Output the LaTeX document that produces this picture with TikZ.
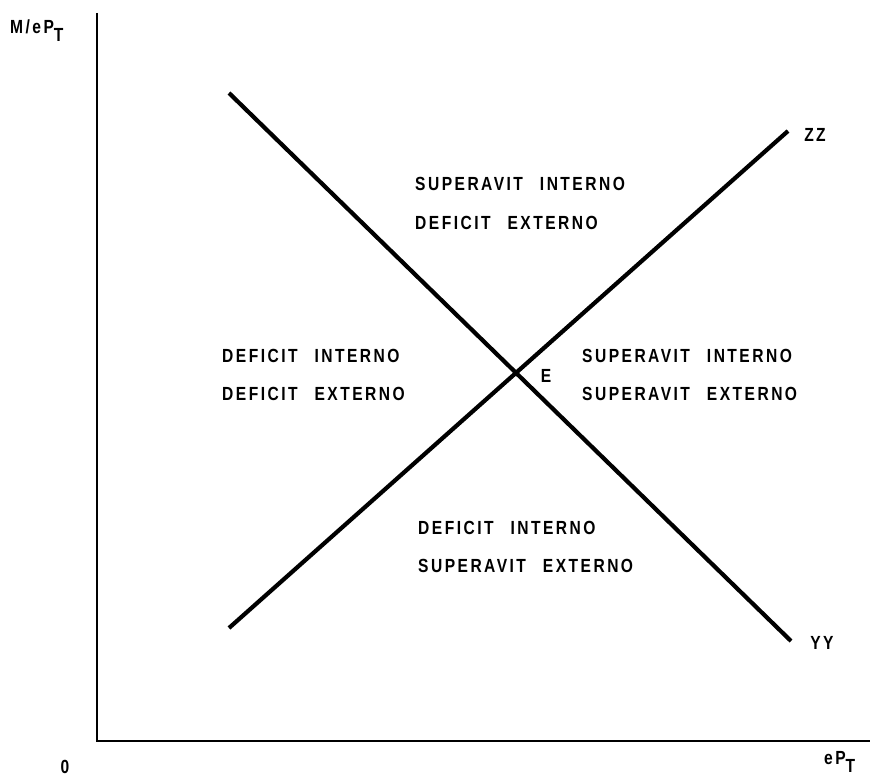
\documentclass[tikz,border=0pt]{standalone}
\usepackage{fontspec}
\setmainfont{Liberation Sans}
\newfontfamily\lblfont[LetterSpace=13,FakeStretch=0.82,WordSpace=2.5]{Liberation Sans Bold}
\newcommand{\lblsize}{\lblfont\fontsize{19}{21}\selectfont}
\begin{document}
\begin{tikzpicture}[x=1pt,y=-1pt,
  lbl/.style={font=\lblsize, inner sep=0pt, anchor=base west},
  axis/.style={line width=2.8pt},
  curve/.style={line width=4.2pt}]
\useasboundingbox (0,0) rectangle (870,784);
% axes
\coordinate (ytop) at (97,13);
\coordinate (orig) at (97,741);
\coordinate (xend) at (870,741);
\draw[axis, line join=miter] (ytop) -- (orig) -- (xend);
% curves
\coordinate (yyA) at (229,93);
\coordinate (yyB) at (791,641);
\coordinate (zzA) at (229,628);
\coordinate (zzB) at (788,131);
\draw[curve] (yyA) -- (yyB);
\draw[curve] (zzA) -- (zzB);
% labels
\node[lbl, anchor=base] (zz) at (815,141) {ZZ};
\node[lbl, anchor=base] (yy) at (822,649) {YY};
\node[lbl, anchor=base] (E) at (546,382) {E};
\node[lbl, anchor=base] (zero) at (65,773) {0};
\node[lbl] (ylab) at (10,34) {M/eP\raisebox{-8pt}{T}};
\node[lbl] (xlab) at (824,764) {eP\raisebox{-8pt}{T}};
% region texts
\node[lbl] (t1) at (415,190) {SUPERAVIT INTERNO};
\node[lbl] (t2) at (415,229) {DEFICIT EXTERNO};
\node[lbl] (l1) at (222,362) {DEFICIT INTERNO};
\node[lbl] (l2) at (222,400) {DEFICIT EXTERNO};
\node[lbl] (r1) at (582,362) {SUPERAVIT INTERNO};
\node[lbl] (r2) at (582,400) {SUPERAVIT EXTERNO};
\node[lbl] (b1) at (418,534) {DEFICIT INTERNO};
\node[lbl] (b2) at (418,572) {SUPERAVIT EXTERNO};
\end{tikzpicture}
\end{document}
